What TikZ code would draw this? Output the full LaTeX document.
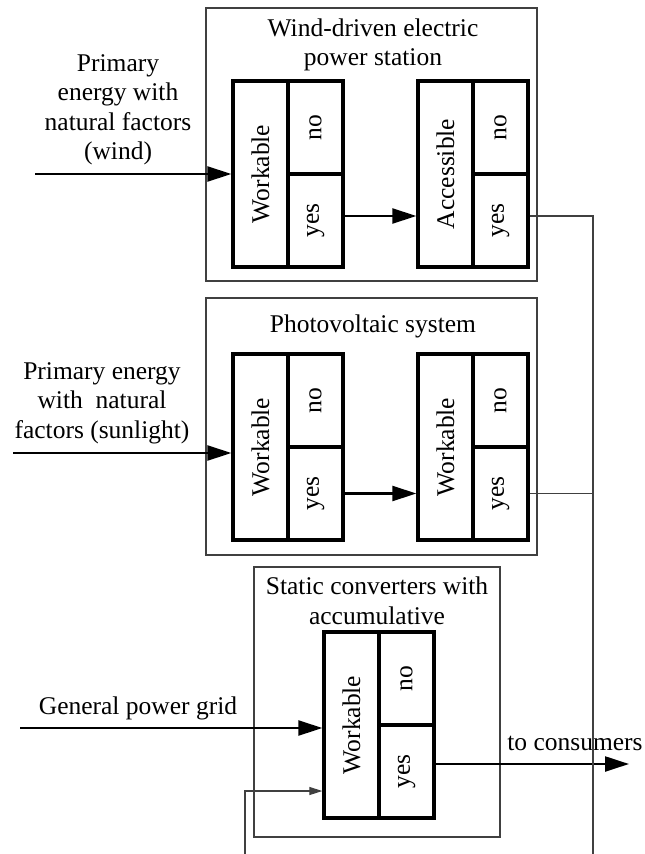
\documentclass[tikz,border=0pt]{standalone}
\usepackage{fontspec}
\setmainfont{Liberation Serif}
\usetikzlibrary{arrows.meta}
\begin{document}
\begin{tikzpicture}[x=1pt,y=-1pt,
 font=\fontsize{25.5}{29.5}\selectfont,
 frame/.style={draw=black!75, line width=1.2pt, inner sep=0pt},
 cell/.style={draw, line width=3.3pt, inner sep=0pt, minimum width=55pt},
 tall/.style={cell, minimum height=186pt},
 half/.style={cell, minimum height=93pt},
 flow/.style={line width=2.3pt, -{Triangle[length=24pt,width=15pt]}},
 thinflow/.style={draw=black!75, line width=1.1pt, -{Triangle[length=13pt,width=8pt]}},
 wire/.style={draw=black!75, line width=1.1pt},
 txt/.style={align=center, inner sep=0pt}]
\useasboundingbox[fill=white] (0,0) rectangle (645,854);

% outer frames
\node[frame, minimum width=331pt, minimum height=273pt] (fw) at (371.5,144.5) {};
\node[frame, minimum width=331pt, minimum height=257pt] (fp) at (371.5,426.5) {};
\node[frame, minimum width=246pt, minimum height=270pt] (fs) at (377,702) {};

% titles
\node[txt] (tw) at (373,45) {Wind-driven electric\\power station};
\node[txt] (tp) at (373,326) {Photovoltaic system};
\node[txt] (ts) at (377,601) {Static converters with\\accumulative};

% wind block
\node[tall] (w1) at (260.5,174) {\rotatebox{90}{Workable}};
\node[half] (n1) at (315.5,127.5) {\rotatebox{90}{no}};
\node[half] (y1) at (315.5,220.5) {\rotatebox{90}{yes}};
\node[tall] (a1) at (445.5,174) {\rotatebox{90}{Accessible}};
\node[half] (n2) at (500.5,127.5) {\rotatebox{90}{no}};
\node[half] (y2) at (500.5,220.5) {\rotatebox{90}{yes}};

% photovoltaic block
\node[tall] (w3) at (260.5,447) {\rotatebox{90}{Workable}};
\node[half] (n3) at (315.5,400.5) {\rotatebox{90}{no}};
\node[half] (y3) at (315.5,493.5) {\rotatebox{90}{yes}};
\node[tall] (w4) at (445.5,447) {\rotatebox{90}{Workable}};
\node[half] (n4) at (500.5,400.5) {\rotatebox{90}{no}};
\node[half] (y4) at (500.5,493.5) {\rotatebox{90}{yes}};

% static block
\node[tall] (w5) at (351.5,725) {\rotatebox{90}{Workable}};
\node[half] (n5) at (406.5,678.5) {\rotatebox{90}{no}};
\node[half] (y5) at (406.5,771.5) {\rotatebox{90}{yes}};

% side labels
\node[txt] (lw) at (118,110) {Primary\\energy with\\natural factors\\(wind)};
\node[txt] (ls) at (102,403) {Primary energy\\with\ \ natural\\factors (sunlight)};
\node[txt] (lg) at (138,708) {General power grid};
\node[txt] (lc) at (575,743) {to consumers};

% free ends
\coordinate (in1) at (35,174);
\coordinate (in2) at (13,453);
\coordinate (in3) at (20,728);
\coordinate (out) at (629,764);
\coordinate (r0) at (593,854);
\coordinate (b0) at (245,854);

% connectors
\draw[flow] (in1) -- (w1.west);
\draw[flow] ([yshift=4.5pt]y1.east) -- ([yshift=4.5pt]y1.east -| a1.west);
\draw[flow] (in2) -- (in2 -| w3.west);
\draw[flow] (y3.east) -- (y3.east -| w4.west);
\draw[flow] (in3) -- (in3 -| w5.west);
\draw[flow] ([yshift=7.5pt]y5.east) -- (out);
\draw[wire] ([yshift=4.5pt]y2.east) -| (r0);
\draw[wire] (y4.east) -- (y4.east -| r0);
\draw[thinflow] (b0) |- ([yshift=-66pt]w5.west);
\end{tikzpicture}
\end{document}
